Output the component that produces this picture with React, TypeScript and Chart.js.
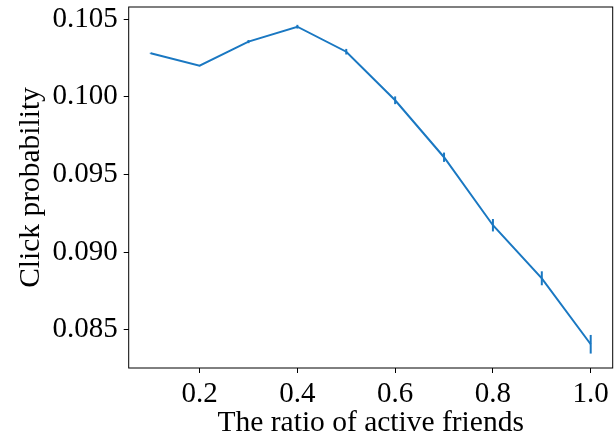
import React, { useEffect, useRef } from "react";
import { Chart, registerables } from "chart.js";

Chart.register(...registerables);

// Ratio of active friends (x) and mean click probability with its error
const activeRatio = [0.1, 0.2, 0.3, 0.4, 0.5, 0.6, 0.7, 0.8, 0.9, 1.0];
const clickProbability = [0.10281, 0.10201, 0.10356, 0.10452, 0.10291, 0.09978, 0.09611, 0.09173, 0.08831, 0.08406];
const clickError = [0.00003, 0.00003, 0.0001, 0.00012, 0.00018, 0.00025, 0.0003, 0.0004, 0.00045, 0.0006];

const xTicks = [0.2, 0.4, 0.6, 0.8, 1.0];
const yTicks = [0.085, 0.09, 0.095, 0.1, 0.105];

const LINE_COLOR = "#1a78c2";
const FONT = "'Liberation Serif', 'Times New Roman', serif";

const errorBarPlugin = {
  id: "errorBars",
  afterDatasetsDraw(chart: any) {
    const { ctx, scales } = chart;
    const xs = scales.x;
    const ys = scales.y;
    ctx.save();
    ctx.strokeStyle = LINE_COLOR;
    ctx.lineWidth = 2;
    activeRatio.forEach((xv, i) => {
      const px = xs.getPixelForValue(xv);
      const top = ys.getPixelForValue(clickProbability[i] + clickError[i]);
      const bot = ys.getPixelForValue(clickProbability[i] - clickError[i]);
      ctx.beginPath();
      ctx.moveTo(px, top);
      ctx.lineTo(px, bot);
      ctx.stroke();
    });
    ctx.restore();
  },
};

const framePlugin = {
  id: "frame",
  afterDraw(chart: any) {
    const { ctx, chartArea } = chart;
    ctx.save();
    ctx.strokeStyle = "#000";
    ctx.lineWidth = 1;
    ctx.strokeRect(chartArea.left, chartArea.top, chartArea.right - chartArea.left, chartArea.bottom - chartArea.top);
    ctx.restore();
  },
};

export default function App() {
  const canvasRef = useRef<HTMLCanvasElement | null>(null);

  useEffect(() => {
    if (!canvasRef.current) return;
    const chart = new Chart(canvasRef.current, {
      type: "line",
      data: {
        datasets: [
          {
            data: activeRatio.map((x, i) => ({ x, y: clickProbability[i] })),
            borderColor: LINE_COLOR,
            borderWidth: 2,
            pointRadius: 0,
            tension: 0,
            fill: false,
          },
        ],
      },
      options: {
        responsive: false,
        animation: false,
        layout: { padding: { left: 0, right: 1.3, top: 7, bottom: 0 } },
        plugins: {
          legend: { display: false },
          tooltip: { enabled: false },
        },
        scales: {
          x: {
            type: "linear",
            min: 0.055,
            max: 1.045,
            border: { display: false },
            grid: { display: true, drawOnChartArea: false, drawTicks: true, tickLength: 5, color: "#000" },
            afterBuildTicks: (scale: any) => {
              scale.ticks = xTicks.map((v) => ({ value: v }));
            },
            afterFit: (scale: any) => {
              scale.height = 68;
              scale.paddingLeft = 0;
              scale.paddingRight = 0;
            },
            ticks: {
              color: "#000",
              padding: 4,
              font: { family: FONT, size: 29 },
              callback: (v: any) => Number(v).toFixed(1),
              maxRotation: 0,
            },
            title: {
              display: true,
              text: "The ratio of active friends",
              color: "#000",
              font: { family: FONT, size: 29.5 },
              padding: { top: 0, bottom: -5 },
            },
          },
          y: {
            type: "linear",
            min: 0.08253,
            max: 0.10579,
            border: { display: false },
            grid: { display: true, drawOnChartArea: false, drawTicks: true, tickLength: 5, color: "#000" },
            afterBuildTicks: (scale: any) => {
              scale.ticks = yTicks.map((v) => ({ value: v }));
            },
            afterFit: (scale: any) => {
              scale.width = 128.7;
              scale.paddingTop = 0;
              scale.paddingBottom = 0;
            },
            ticks: {
              color: "#000",
              padding: 6,
              font: { family: FONT, size: 29 },
              callback: (v: any) => Number(v).toFixed(3),
            },
            title: {
              display: true,
              text: "Click probability",
              color: "#000",
              font: { family: FONT, size: 29.5 },
              padding: { top: 14, bottom: 0 },
            },
          },
        },
      },
      plugins: [errorBarPlugin, framePlugin],
    } as any);
    return () => chart.destroy();
  }, []);

  return (
    <div style={{ position: "fixed", left: 0, top: 0, width: 614, height: 436, background: "#fff" }}>
      <canvas ref={canvasRef} width={614} height={436} />
    </div>
  );
}
